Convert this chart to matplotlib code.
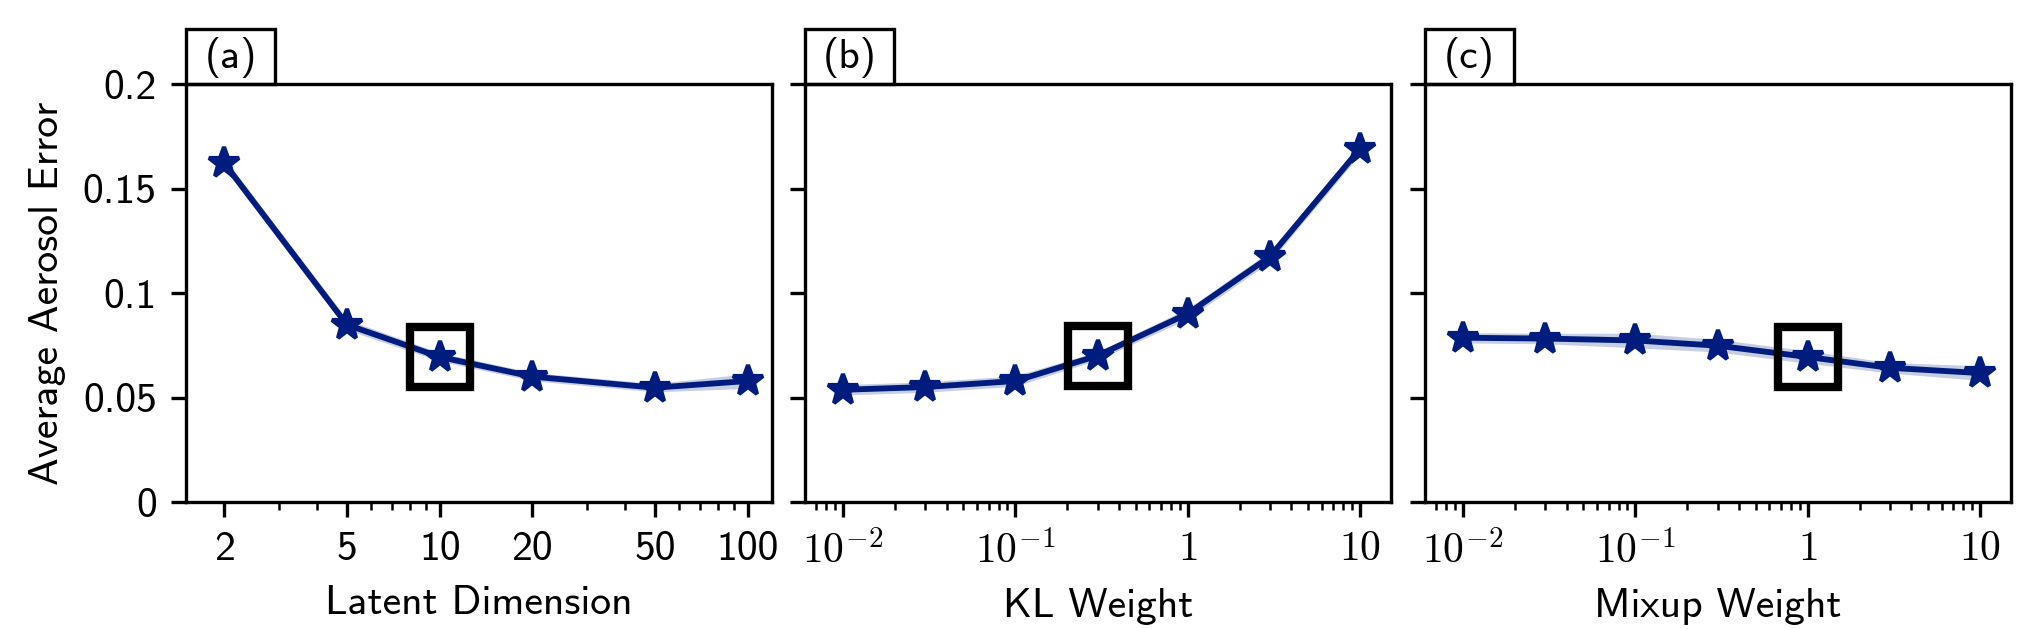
import numpy as np
import matplotlib.pyplot as plt
from matplotlib.patches import Rectangle
from matplotlib.ticker import FixedLocator, FixedFormatter, NullFormatter

plt.rcParams['font.family'] = ['cmss10', 'DejaVu Sans']
plt.rcParams['mathtext.fontset'] = 'cm'
plt.rcParams['axes.unicode_minus'] = False
plt.rcParams['font.size'] = 10

# Data
latent_dim = [2, 5, 10, 20, 50, 100]
latent_err = [0.162, 0.0848, 0.0694, 0.0600, 0.0547, 0.0579]
latent_std = [0.0025, 0.0025, 0.002, 0.002, 0.002, 0.0035]

kl_weight = [0.01, 0.03, 0.1, 0.3, 1, 3, 10]
kl_err = [0.0537, 0.0550, 0.0579, 0.0700, 0.0901, 0.1174, 0.169]
kl_std = [0.0025, 0.0025, 0.0025, 0.002, 0.0025, 0.0025, 0.0025]

mixup_weight = [0.01, 0.03, 0.1, 0.3, 1, 3, 10]
mixup_err = [0.0786, 0.0782, 0.0773, 0.0748, 0.0694, 0.0642, 0.0617]
mixup_std = [0.0025, 0.0025, 0.0035, 0.003, 0.003, 0.0025, 0.0035]

selected = [10, 0.3, 1]
xlabels = ["Latent Dimension", "KL Weight", "Mixup Weight"]
panel_tags = ["(a)", "(b)", "(c)"]

color = "#001c7f"

fig = plt.figure(figsize=(6.8, 2.0967), dpi=300)
lefts = [186 / 2040, 805 / 2040, 1425 / 2040]
axes = [fig.add_axes([l, 0.2019, 0.2873, 0.6645]) for l in lefts]

series = [(latent_dim, latent_err, latent_std),
          (kl_weight, kl_err, kl_std),
          (mixup_weight, mixup_err, mixup_std)]

for i, ax in enumerate(axes):
    x, y, s = series[i]
    x = np.array(x, dtype=float)
    y = np.array(y)
    s = np.array(s)
    ax.set_xscale("log")
    ax.fill_between(x, y - s, y + s, color=color, alpha=0.22, lw=0)
    ax.plot(x, y, color=color, lw=1.4, marker="*", ms=7.5, zorder=3)
    # box around the chosen setting
    j = list(x).index(selected[i])
    ax.plot(x[j], y[j], marker="s", ms=14.5, mfc="none", mec="black",
            mew=2, ls="none", zorder=4)
    ax.set_ylim(0, 0.2)
    ax.set_yticks([0, 0.05, 0.1, 0.15, 0.2])
    if i == 0:
        ax.set_yticklabels(["0", "0.05", "0.1", "0.15", "0.2"])
        ax.set_ylabel("Average Aerosol Error")
        ax.set_xlim(1.5, 120)
        ax.xaxis.set_major_locator(FixedLocator(latent_dim))
        ax.xaxis.set_major_formatter(FixedFormatter([str(v) for v in latent_dim]))
    else:
        ax.set_yticklabels([])
        ax.set_xlim(10 ** -2.22, 10 ** 1.18)
        ax.xaxis.set_major_locator(FixedLocator([0.01, 0.1, 1, 10]))
        ax.xaxis.set_major_formatter(FixedFormatter(
            [r"$10^{-2}$", r"$10^{-1}$", r"$1$", r"$10$"]))
    ax.xaxis.set_minor_formatter(NullFormatter())
    ax.set_xlabel(xlabels[i])

    # panel tag box sitting on the top spine
    ax.add_patch(Rectangle((0, 1), 89 / 586, 55 / 418, transform=ax.transAxes,
                           fc="white", ec="black", lw=0.8, clip_on=False))
    ax.text(0.076, 1.063, panel_tags[i], transform=ax.transAxes,
            ha="center", va="center")

fig.savefig("out.png", dpi=300)
